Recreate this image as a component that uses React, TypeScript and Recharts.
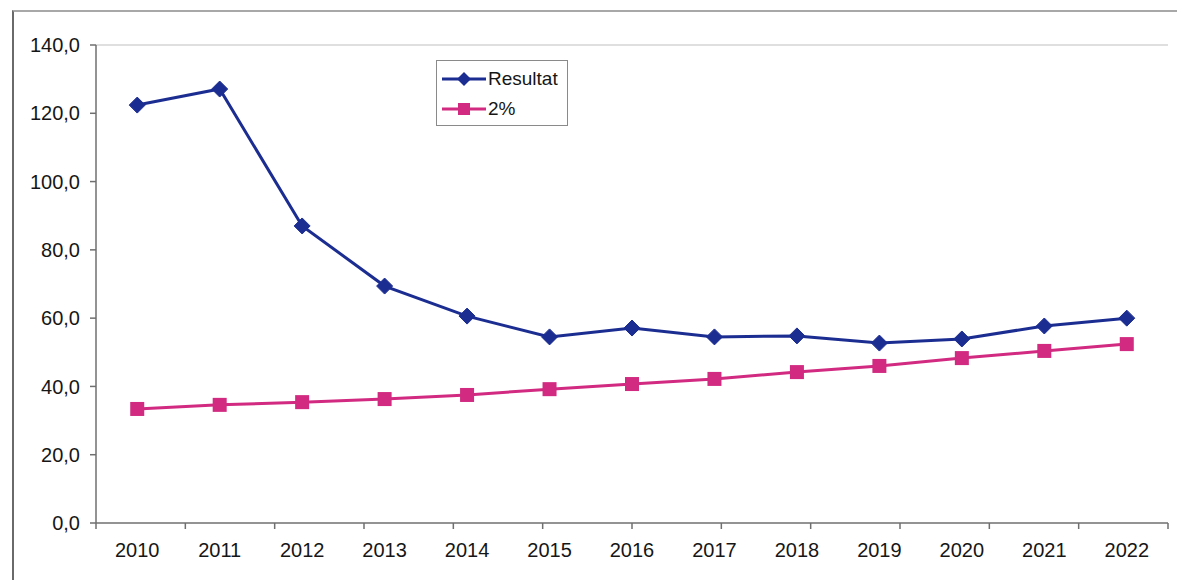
import {
  ComposedChart,
  Line,
  ReferenceLine,
  XAxis,
  YAxis,
} from 'recharts';

const YEARS = ['2010', '2011', '2012', '2013', '2014', '2015', '2016', '2017', '2018', '2019', '2020', '2021', '2022'];
const RESULTAT = [122.4, 127.1, 87.0, 69.4, 60.6, 54.5, 57.1, 54.5, 54.8, 52.7, 53.9, 57.7, 60.0];
const TWO_PCT = [33.4, 34.6, 35.4, 36.3, 37.5, 39.2, 40.7, 42.2, 44.2, 46.0, 48.3, 50.4, 52.4];
const Y_TICKS = [0, 20, 40, 60, 80, 100, 120, 140];
const BOUNDARY_TICKS = YEARS.map((_, i) => i).concat([YEARS.length]);

const BLUE = '#1c2d92';
const PINK = '#d12a80';
const FONT = '"Liberation Sans", Arial, sans-serif';
const TEXT = '#161616';

const data = YEARS.map((year, i) => ({ year, resultat: RESULTAT[i], pct: TWO_PCT[i] }));

function Diamond(props: any) {
  const { cx, cy, index } = props;
  if (cx == null || cy == null) return <g key={`d-${index}`} />;
  const r = 8;
  return (
    <path
      key={`d-${index}`}
      d={`M${cx},${cy - r} L${cx + r},${cy} L${cx},${cy + r} L${cx - r},${cy} Z`}
      fill={BLUE}
      stroke={BLUE}
      strokeWidth={1}
    />
  );
}

function Square(props: any) {
  const { cx, cy, index } = props;
  if (cx == null || cy == null) return <g key={`s-${index}`} />;
  const h = 7;
  return <rect key={`s-${index}`} x={cx - h} y={cy - h} width={h * 2} height={h * 2} fill={PINK} />;
}

function LegendBox() {
  const rows = [
    { label: 'Resultat', color: BLUE, shape: 'diamond' },
    { label: '2%', color: PINK, shape: 'square' },
  ];
  return (
    <div
      style={{
        position: 'absolute',
        left: 436,
        top: 60,
        border: '1px solid #8a8a8a',
        background: 'white',
        width: 132,
        height: 66,
        boxSizing: 'border-box',
        padding: '3px 0 0 3px',
        fontFamily: FONT,
        fontSize: 19,
        color: TEXT,
      }}
    >
      {rows.map((r) => (
        <div key={r.label} style={{ display: 'flex', alignItems: 'center', height: 30 }}>
          <svg width={48} height={20}>
            <line x1={2} x2={46} y1={10} y2={10} stroke={r.color} strokeWidth={3} />
            {r.shape === 'diamond' ? (
              <path d="M24,3 L31,10 L24,17 L17,10 Z" fill={r.color} />
            ) : (
              <rect x={18} y={4} width={12} height={12} fill={r.color} />
            )}
          </svg>
          <span>{r.label}</span>
        </div>
      ))}
    </div>
  );
}

export default function App() {
  return (
    <div
      style={{
        position: 'absolute',
        left: 0,
        top: 0,
        width: 1177,
        height: 580,
        background: 'white',
        overflow: 'hidden',
      }}
    >
      <div
        style={{
          position: 'absolute',
          left: 12,
          top: 10,
          width: 1200,
          height: 620,
          borderTop: '2px solid #a8a8a8',
          borderLeft: '2px solid #6a6a6a',
        }}
      />
      <div style={{ position: 'absolute', left: 0, top: 0 }}>
        <ComposedChart
          width={1177}
          height={580}
          data={data}
          margin={{ top: 45, right: 9, bottom: 0, left: 10 }}
        >
          <ReferenceLine yAxisId="left" y={140} xAxisId="cat" stroke="#d4d4d4" strokeWidth={1.5} ifOverflow="visible" />
          <XAxis
            xAxisId="bounds"
            type="number"
            domain={[0, YEARS.length]}
            ticks={BOUNDARY_TICKS}
            tickFormatter={() => ''}
            tickSize={6}
            height={1}
            axisLine={{ stroke: '#6f6f6f', strokeWidth: 1.5 }}
            tickLine={{ stroke: '#6f6f6f', strokeWidth: 1.5 }}
          />
          <XAxis
            xAxisId="cat"
            dataKey="year"
            type="category"
            scale="band"
            height={56}
            axisLine={false}
            tickLine={false}
            tickSize={6}
            tickMargin={13}
            interval={0}
            tick={{ fontSize: 20, fill: TEXT, fontFamily: FONT }}
          />
          <YAxis
            yAxisId="left"
            domain={[0, 140]}
            ticks={Y_TICKS}
            width={86}
            tickSize={6}
            tickMargin={10}
            tickFormatter={(v: number) => v.toFixed(1).replace('.', ',')}
            tick={{ fontSize: 20, fill: TEXT, fontFamily: FONT }}
            axisLine={{ stroke: '#6f6f6f', strokeWidth: 1.5 }}
            tickLine={{ stroke: '#6f6f6f', strokeWidth: 1.5 }}
          />
          <YAxis
            yAxisId="right"
            orientation="right"
            width={0}
            domain={[0, 140]}
            tick={false}
            tickLine={false}
            axisLine={{ stroke: '#d4d4d4', strokeWidth: 1.5 }}
          />
          <Line
            xAxisId="cat"
            yAxisId="left"
            type="linear"
            dataKey="resultat"
            name="Resultat"
            stroke={BLUE}
            strokeWidth={3}
            dot={Diamond}
            activeDot={false}
            isAnimationActive={false}
          />
          <Line
            xAxisId="cat"
            yAxisId="left"
            type="linear"
            dataKey="pct"
            name="2%"
            stroke={PINK}
            strokeWidth={3}
            dot={Square}
            activeDot={false}
            isAnimationActive={false}
          />
        </ComposedChart>
      </div>
      <LegendBox />
    </div>
  );
}
